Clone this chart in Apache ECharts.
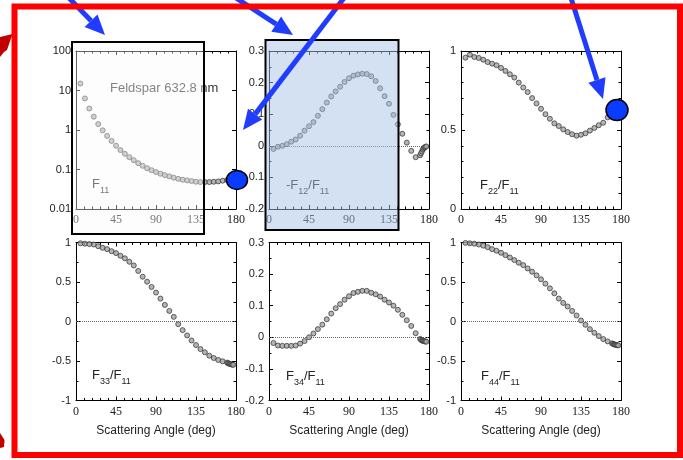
<!DOCTYPE html>
<html><head><meta charset="utf-8">
<script src="https://cdn.jsdelivr.net/npm/echarts@6/dist/echarts.min.js"></script>
<style>html,body{margin:0;padding:0;background:#fff}#c{width:683px;height:460px}</style>
</head><body><div id="c"></div>
<script>
// ---- data (scattering angle in degrees) ----
const angles = [5,10,15,20,25,30,35,40,45,50,55,60,65,70,75,80,85,90,95,100,105,110,115,120,125,130,135,140,145,150,155,160,165,170,171,172,173,174,175,176,177];
const f11 = [15.0,6.3,3.5,2.17,1.41,0.98,0.71,0.53,0.40,0.31,0.25,0.205,0.172,0.145,0.124,0.108,0.096,0.086,0.078,0.072,0.067,0.062,0.058,0.055,0.053,0.051,0.049,0.048,0.048,0.048,0.049,0.050,0.052,0.054,0.055,0.055,0.056,0.057,0.058,0.059,0.060];
const mf12 = [-0.01,-0.003,0.0,0.005,0.013,0.02,0.032,0.048,0.062,0.075,0.095,0.116,0.137,0.156,0.172,0.187,0.202,0.214,0.222,0.226,0.228,0.227,0.22,0.205,0.182,0.157,0.133,0.098,0.068,0.038,0.01,-0.016,-0.036,-0.03,-0.024,-0.018,-0.012,-0.008,-0.005,-0.003,-0.002];
const f22 = [0.958,0.977,0.962,0.956,0.945,0.93,0.92,0.91,0.893,0.874,0.853,0.832,0.80,0.769,0.74,0.702,0.668,0.634,0.60,0.571,0.542,0.525,0.504,0.487,0.473,0.464,0.47,0.479,0.496,0.513,0.53,0.546,0.58,0.60,0.605,0.61,0.615,0.62,0.625,0.63,0.635];
const f33 = [0.99,0.985,0.98,0.975,0.953,0.933,0.916,0.89,0.866,0.832,0.80,0.756,0.71,0.64,0.567,0.504,0.437,0.366,0.29,0.21,0.134,0.059,-0.034,-0.109,-0.176,-0.24,-0.298,-0.349,-0.39,-0.433,-0.462,-0.487,-0.504,-0.52,-0.528,-0.533,-0.537,-0.54,-0.543,-0.546,-0.548];
const f34 = [-0.018,-0.026,-0.027,-0.027,-0.027,-0.026,-0.02,-0.012,0.0,0.012,0.026,0.04,0.057,0.075,0.092,0.105,0.119,0.13,0.14,0.144,0.147,0.147,0.141,0.136,0.129,0.119,0.11,0.1,0.087,0.071,0.054,0.036,0.013,-0.005,-0.008,-0.01,-0.011,-0.012,-0.013,-0.013,-0.014];
const f44 = [0.995,0.99,0.985,0.975,0.96,0.941,0.916,0.895,0.87,0.84,0.81,0.777,0.744,0.714,0.672,0.63,0.584,0.534,0.479,0.42,0.357,0.29,0.235,0.19,0.134,0.076,0.013,-0.042,-0.097,-0.143,-0.185,-0.223,-0.252,-0.277,-0.283,-0.288,-0.292,-0.295,-0.298,-0.3,-0.302];
const xRange = [0, 180], xStep = 45;
const panelNames = ['{m|F}{s|11}','{m|-F}{s|12}{m|/F}{s|11}','{m|F}{s|22}{m|/F}{s|11}','{m|F}{s|33}{m|/F}{s|11}','{m|F}{s|34}{m|/F}{s|11}','{m|F}{s|44}{m|/F}{s|11}'];
const sampleName = 'Feldspar 632.8 nm';
const xTitle = 'Scattering Angle (deg)';

// ---- layout ----
const cols = [76, 269, 461], rows = [51, 242.5], W = 160, H = 158;
const panels = [
  {vals: f11,  y: {type:'log', min:0.01, max:100, logBase:10}, minor:0, zero:false},
  {vals: mf12, y: {type:'value', min:-0.2, max:0.3, interval:0.1}, minor:2, zero:true},
  {vals: f22,  y: {type:'value', min:0, max:1, interval:0.5}, minor:5, zero:false},
  {vals: f33,  y: {type:'value', min:-1, max:1, interval:0.5}, minor:2, zero:true},
  {vals: f34,  y: {type:'value', min:-0.2, max:0.3, interval:0.1}, minor:2, zero:true},
  {vals: f44,  y: {type:'value', min:-1, max:1, interval:0.5}, minor:2, zero:true}
];
const lineC = '#000';
const grid = [], xAxis = [], yAxis = [], series = [];
panels.forEach((p, i) => {
  const c = i % 3, r = Math.floor(i / 3);
  grid.push({left: cols[c], top: rows[r], width: W, height: H, containLabel: false});
  const xBase = {gridIndex: i, type: 'value', min: xRange[0], max: xRange[1], interval: xStep,
    axisLine: {onZero: false, lineStyle: {color: lineC, width: 1}},
    axisTick: {inside: true, length: 4, lineStyle: {color: lineC}},
    minorTick: {show: true, splitNumber: 5, length: 2.5, lineStyle: {color: lineC}},
    splitLine: {show: false}, minorSplitLine: {show: false}};
  xAxis.push(Object.assign({}, xBase, {position: 'bottom',
    axisLabel: {margin: 5, fontFamily: 'Liberation Serif', fontSize: 12, color: '#222'},
    name: r === 1 ? xTitle : '', nameLocation: 'middle', nameGap: 24,
    nameTextStyle: {fontFamily: 'Liberation Sans', fontSize: 12, color: '#222'}}));
  xAxis.push(Object.assign({}, xBase, {position: 'top', axisLabel: {show: false}}));
  const yBase = Object.assign({gridIndex: i}, p.y, {
    axisLine: {onZero: false, lineStyle: {color: lineC, width: 1}},
    axisTick: {inside: true, length: 4, lineStyle: {color: lineC}},
    minorTick: {show: p.minor > 0, splitNumber: p.minor || 5, length: 2.5, lineStyle: {color: lineC}},
    splitLine: {show: false}, minorSplitLine: {show: false}});
  yAxis.push(Object.assign({}, yBase, {position: 'left',
    axisLabel: {margin: 5, fontFamily: 'Liberation Sans', fontSize: 11, color: '#222',
      formatter: v => String(Number(v.toFixed(3)))}}));
  yAxis.push(Object.assign({}, yBase, {position: 'right', axisLabel: {show: false}}));
  const s = {type: 'scatter', xAxisIndex: 2 * i, yAxisIndex: 2 * i, silent: true,
    data: angles.map((a, k) => [a, p.vals[k]]), symbol: 'circle', symbolSize: 5,
    itemStyle: {color: '#a3a3a3', borderColor: '#2f2f2f', borderWidth: 0.9}, z: 3};
  if (p.zero) s.markLine = {silent: true, symbol: 'none', label: {show: false},
    lineStyle: {type: 'dotted', color: '#666', width: 1}, data: [{yAxis: 0}], z: 1};
  series.push(s);
});

// ---- annotations ----
const blue = '#1f3cff';
function arrow(x1, y1, x2, y2) {
  const a = Math.atan2(y2 - y1, x2 - x1), hl = 20, hw = 9;
  const bx = x2 - hl * Math.cos(a), by = y2 - hl * Math.sin(a);
  const px = -Math.sin(a), py = Math.cos(a);
  return [
    {type: 'line', z: 120, shape: {x1, y1, x2: bx, y2: by}, style: {stroke: blue, lineWidth: 5}},
    {type: 'polygon', z: 121, shape: {points: [[x2, y2], [bx + hw * px, by + hw * py], [bx - hw * px, by - hw * py]]}, style: {fill: blue}}
  ];
}
const textPos = [[92,178],[286,179],[480,179],[92,369],[286,370],[481,370]];
const graphics = [];
panelNames.forEach((t, i) => graphics.push({type: 'text', z: 50, left: textPos[i][0], top: textPos[i][1],
  style: {text: t, fill: '#222', rich: {
    m: {fontSize: 13, fontFamily: 'Liberation Sans', verticalAlign: 'top', color: '#222'},
    s: {fontSize: 9, fontFamily: 'Liberation Sans', verticalAlign: 'top', padding: [8, 0, 0, 0], color: '#222'}}}}));
graphics.push({type: 'text', z: 50, left: 110, top: 82, style: {text: sampleName, font: '13px "Liberation Sans"', fill: '#333'}});
graphics.push({type: 'rect', z: 100, shape: {x: 72, y: 42, width: 132, height: 192}, style: {fill: 'rgba(250,250,250,0.4)', stroke: '#000', lineWidth: 2}});
graphics.push({type: 'rect', z: 100, shape: {x: 265.5, y: 40, width: 133, height: 190}, style: {fill: 'rgba(168,195,232,0.5)', stroke: '#000', lineWidth: 2}});
graphics.push(...arrow(69, -2, 105, 35));
graphics.push(...arrow(236, -2, 293, 35));
graphics.push(...arrow(344, -2, 243, 130));
graphics.push(...arrow(571, -2, 603, 99));
graphics.push({type: 'ellipse', z: 130, shape: {cx: 237, cy: 180, rx: 10.5, ry: 9.5}, style: {fill: '#0a3cff', stroke: '#000', lineWidth: 1.5}});
graphics.push({type: 'ellipse', z: 130, shape: {cx: 617, cy: 110, rx: 11, ry: 10.5}, style: {fill: '#0a3cff', stroke: '#000', lineWidth: 1.5}});
graphics.push({type: 'rect', z: 140, shape: {x: 14.5, y: 6.5, width: 665.5, height: 448.5}, style: {fill: 'none', stroke: '#ff0000', lineWidth: 6}});
graphics.push({type: 'polygon', z: 141, shape: {points: [[12.5,34],[0,37],[0,57],[4,52],[7,50]]}, style: {fill: '#c00000'}});
graphics.push({type: 'polygon', z: 141, shape: {points: [[0,433],[4.5,440],[4,447],[0,448]]}, style: {fill: '#c00000'}});

const chart = echarts.init(document.getElementById('c'), null, {renderer: 'canvas'});
chart.setOption({animation: false, backgroundColor: '#fff', grid, xAxis, yAxis, series, graphic: {elements: graphics}});
</script></body></html>
